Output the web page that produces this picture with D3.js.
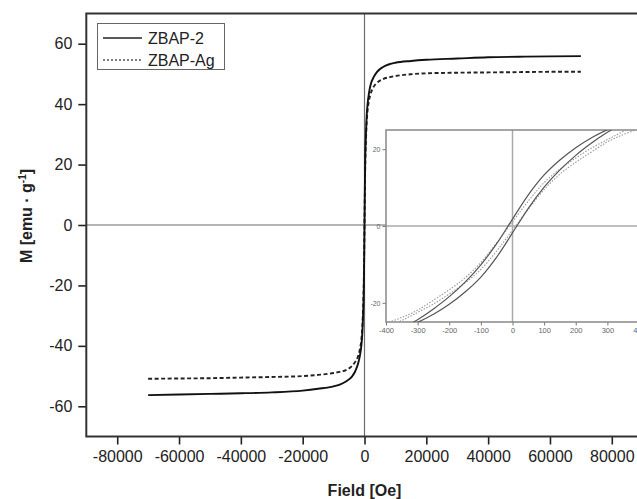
<!DOCTYPE html>
<html><head><meta charset="utf-8">
<script src="https://cdn.jsdelivr.net/npm/d3@7"></script>
<style>body{margin:0;background:#fff}svg{display:block}</style>
</head><body><svg id="c" width="637" height="499"></svg>
<script>
// ---------- data ----------
const seriesNames = ["ZBAP-2", "ZBAP-Ag"];
const fieldMain = [-70000,-60000,-50000,-40000,-30000,-20000,-15000,-10000,-8000,-6000,-4000,-3000,-2000,-1500,-1000,-700,-500,-200,0,200,500,700,1000,1500,2000,3000,4000,6000,8000,10000,15000,20000,30000,40000,50000,60000,70000];
const mZbap2Main = [-56.3,-56.1,-55.9,-55.7,-55.4,-54.8,-54.2,-53.4,-52.8,-51.8,-50.1,-48.4,-45.6,-43.3,-39.8,-35.8,-31,-19.8,0,19.8,31,36,40,44,46.5,49,50.6,52.3,53.2,53.7,54.3,54.7,55.1,55.5,55.7,55.8,55.9];
const mZbapAgMain = [-50.9,-50.8,-50.7,-50.5,-50.3,-50,-49.6,-49,-48.6,-48,-46.6,-45.3,-43.2,-41.2,-37.8,-33.8,-28.8,-17,0,17.2,29,34,38,41.5,43.5,45.8,47,48.3,48.9,49.3,49.9,50.2,50.4,50.5,50.6,50.7,50.7];
const xTickValues = [-80000,-60000,-40000,-20000,0,20000,40000,60000,80000];
const yTickValues = [-60,-40,-20,0,20,40,60];

// inset (low-field hysteresis loops)
const fieldInset = [-400,-350,-300,-250,-200,-150,-100,-50,0,50,100,150,200,250,300,350,400];
const mZbap2Down = [-28.8,-26.7,-24.4,-21.6,-18.4,-14.6,-10.1,-4.6,1.8,8.1,13.3,17.2,20.4,23,25.1,26.9,28.4];
const mZbap2Up   = [-28.4,-26.9,-25.1,-23,-20.4,-17.2,-13.3,-8.1,-1.8,4.6,10.1,14.6,18.4,21.6,24.4,26.7,28.8];
const mZbapAgDown = [-25.3,-23.8,-21.9,-19.3,-16.6,-13.5,-9.5,-4.4,1.1,6.5,11.3,14.8,17.7,20.3,22.5,24.6,26.5];
const mZbapAgUp   = [-26.5,-24.6,-22.5,-20.3,-17.7,-14.8,-11.3,-6.5,-1.1,4.4,9.5,13.5,16.6,19.3,21.9,23.8,25.3];
const insetXTickValues = [-400,-300,-200,-100,0,100,200,300,400];
const insetYTickValues = [-20,0,20];

// ---------- layout ----------
const svg = d3.select("#c");
const font = "'Liberation Sans', Arial, sans-serif";
const fmt = d => String(d);
const x = d3.scaleLinear().domain([-90000, 90000]).range([86.3, 642.7]);
const y = d3.scaleLinear().domain([-70, 70]).range([436.5, 13.5]);

// crosshair
svg.append("line").attr("x1", x(0)).attr("x2", x(0)).attr("y1", y(70)).attr("y2", y(-70))
  .attr("stroke", "#6a6a6a").attr("stroke-width", 1.2);
svg.append("line").attr("x1", x(-90000)).attr("x2", x(90000)).attr("y1", y(0)).attr("y2", y(0))
  .attr("stroke", "#6a6a6a").attr("stroke-width", 1.2);

// axes
const xAxisG = svg.append("g").attr("transform", `translate(0,${y(-70)})`);
xAxisG.call(d3.axisBottom(x).tickValues(d3.range(-90000, 90001, 10000)).tickSize(4.5).tickFormat(""));
xAxisG.call(d3.axisBottom(x).tickValues(xTickValues).tickSize(8).tickPadding(6).tickFormat(fmt));
xAxisG.selectAll(".domain").remove();
xAxisG.selectAll("line").attr("stroke", "#222").attr("stroke-width", 1.6);
xAxisG.selectAll("text").attr("font-family", font).attr("font-size", 16).attr("fill", "#222");

const yAxisG = svg.append("g").attr("transform", `translate(${x(-90000)},0)`);
yAxisG.call(d3.axisLeft(y).tickValues(d3.range(-70, 71, 10)).tickSize(4.5).tickFormat(""));
yAxisG.call(d3.axisLeft(y).tickValues(yTickValues).tickSize(8).tickPadding(6).tickFormat(fmt));
yAxisG.selectAll(".domain").remove();
yAxisG.selectAll("line").attr("stroke", "#222").attr("stroke-width", 1.6);
yAxisG.selectAll("text").attr("font-family", font).attr("font-size", 16).attr("fill", "#222");

// frame
svg.append("rect").attr("x", x(-90000)).attr("y", y(70)).attr("width", x(90000) - x(-90000)).attr("height", y(-70) - y(70))
  .attr("fill", "none").attr("stroke", "#333").attr("stroke-width", 2);

// main curves
const lineMain = d3.line().x(d => x(d[0])).y(d => y(d[1])).curve(d3.curveMonotoneX);
svg.append("path").datum(fieldMain.map((f, i) => [f, mZbapAgMain[i]])).attr("d", lineMain)
  .attr("fill", "none").attr("stroke", "#222").attr("stroke-width", 1.9).attr("stroke-dasharray", "4,2.5");
svg.append("path").datum(fieldMain.map((f, i) => [f, mZbap2Main[i]])).attr("d", lineMain)
  .attr("fill", "none").attr("stroke", "#111").attr("stroke-width", 1.9);

// legend
const lg = svg.append("g");
lg.append("rect").attr("x", 97.5).attr("y", 23.5).attr("width", 127).attr("height", 46)
  .attr("fill", "#fff").attr("stroke", "#666").attr("stroke-width", 1);
seriesNames.forEach((name, i) => {
  const yy = 38 + i * 22;
  lg.append("line").attr("x1", 103).attr("x2", 142).attr("y1", yy).attr("y2", yy)
    .attr("stroke", i === 0 ? "#222" : "#555").attr("stroke-width", 1.5)
    .attr("stroke-dasharray", i === 0 ? null : "2,2");
  lg.append("text").attr("x", 148).attr("y", yy + 6).text(name)
    .attr("font-family", font).attr("font-size", 16).attr("fill", "#222");
});

// axis titles
svg.append("text").attr("x", x(0)).attr("y", 496).attr("text-anchor", "middle")
  .attr("font-family", font).attr("font-size", 16).attr("font-weight", "bold").attr("fill", "#222")
  .text("Field [Oe]");
const yt = svg.append("text").attr("transform", "translate(32,216) rotate(-90)").attr("text-anchor", "middle")
  .attr("font-family", font).attr("font-size", 16).attr("font-weight", "bold").attr("fill", "#222");
yt.append("tspan").text("M [emu · g");
yt.append("tspan").attr("dy", -6).attr("font-size", 10).text("-1");
yt.append("tspan").attr("dy", 6).text("]");

// ---------- inset ----------
const ix = d3.scaleLinear().domain([-400, 400]).range([386, 639]);
const iy = d3.scaleLinear().domain([-25, 25]).range([322, 130]);
svg.append("rect").attr("x", ix(-400)).attr("y", iy(25)).attr("width", ix(400) - ix(-400)).attr("height", iy(-25) - iy(25))
  .attr("fill", "#fff");
svg.append("defs").append("clipPath").attr("id", "ic").append("rect")
  .attr("x", ix(-400)).attr("y", iy(25)).attr("width", ix(400) - ix(-400)).attr("height", iy(-25) - iy(25));

svg.append("line").attr("x1", ix(0)).attr("x2", ix(0)).attr("y1", iy(25)).attr("y2", iy(-25))
  .attr("stroke", "#aaa").attr("stroke-width", 1.5);
svg.append("line").attr("x1", ix(-400)).attr("x2", ix(400)).attr("y1", iy(0)).attr("y2", iy(0))
  .attr("stroke", "#aaa").attr("stroke-width", 1.5);

const ixAxis = svg.append("g").attr("transform", `translate(0,${iy(-25)})`);
ixAxis.call(d3.axisBottom(ix).tickValues(d3.range(-400, 401, 50)).tickSize(2).tickFormat(""));
ixAxis.call(d3.axisBottom(ix).tickValues(insetXTickValues).tickSize(3.5).tickPadding(2).tickFormat(fmt));
ixAxis.selectAll(".domain").remove();
ixAxis.selectAll("line").attr("stroke", "#777").attr("stroke-width", 1);
ixAxis.selectAll("text").attr("font-family", font).attr("font-size", 7.5).attr("fill", "#666");

const iyAxis = svg.append("g").attr("transform", `translate(${ix(-400)},0)`);
iyAxis.call(d3.axisLeft(iy).tickValues([-20, -10, 0, 10, 20]).tickSize(2).tickFormat(""));
iyAxis.call(d3.axisLeft(iy).tickValues(insetYTickValues).tickSize(3.5).tickPadding(2).tickFormat(fmt));
iyAxis.selectAll(".domain").remove();
iyAxis.selectAll("line").attr("stroke", "#777").attr("stroke-width", 1);
iyAxis.selectAll("text").attr("font-family", font).attr("font-size", 7).attr("fill", "#666");

svg.append("rect").attr("x", ix(-400)).attr("y", iy(25)).attr("width", ix(400) - ix(-400)).attr("height", iy(-25) - iy(25))
  .attr("fill", "none").attr("stroke", "#888").attr("stroke-width", 1.5);

const lineInset = d3.line().x(d => ix(d[0])).y(d => iy(d[1])).curve(d3.curveMonotoneX);
const ig = svg.append("g").attr("clip-path", "url(#ic)");
[mZbapAgDown, mZbapAgUp].forEach(arr => {
  ig.append("path").datum(fieldInset.map((f, i) => [f, arr[i]])).attr("d", lineInset)
    .attr("fill", "none").attr("stroke", "#999").attr("stroke-width", 1.1).attr("stroke-dasharray", "1.5,1.5");
});
[mZbap2Down, mZbap2Up].forEach(arr => {
  ig.append("path").datum(fieldInset.map((f, i) => [f, arr[i]])).attr("d", lineInset)
    .attr("fill", "none").attr("stroke", "#555").attr("stroke-width", 1.2);
});
</script>
</body></html>
